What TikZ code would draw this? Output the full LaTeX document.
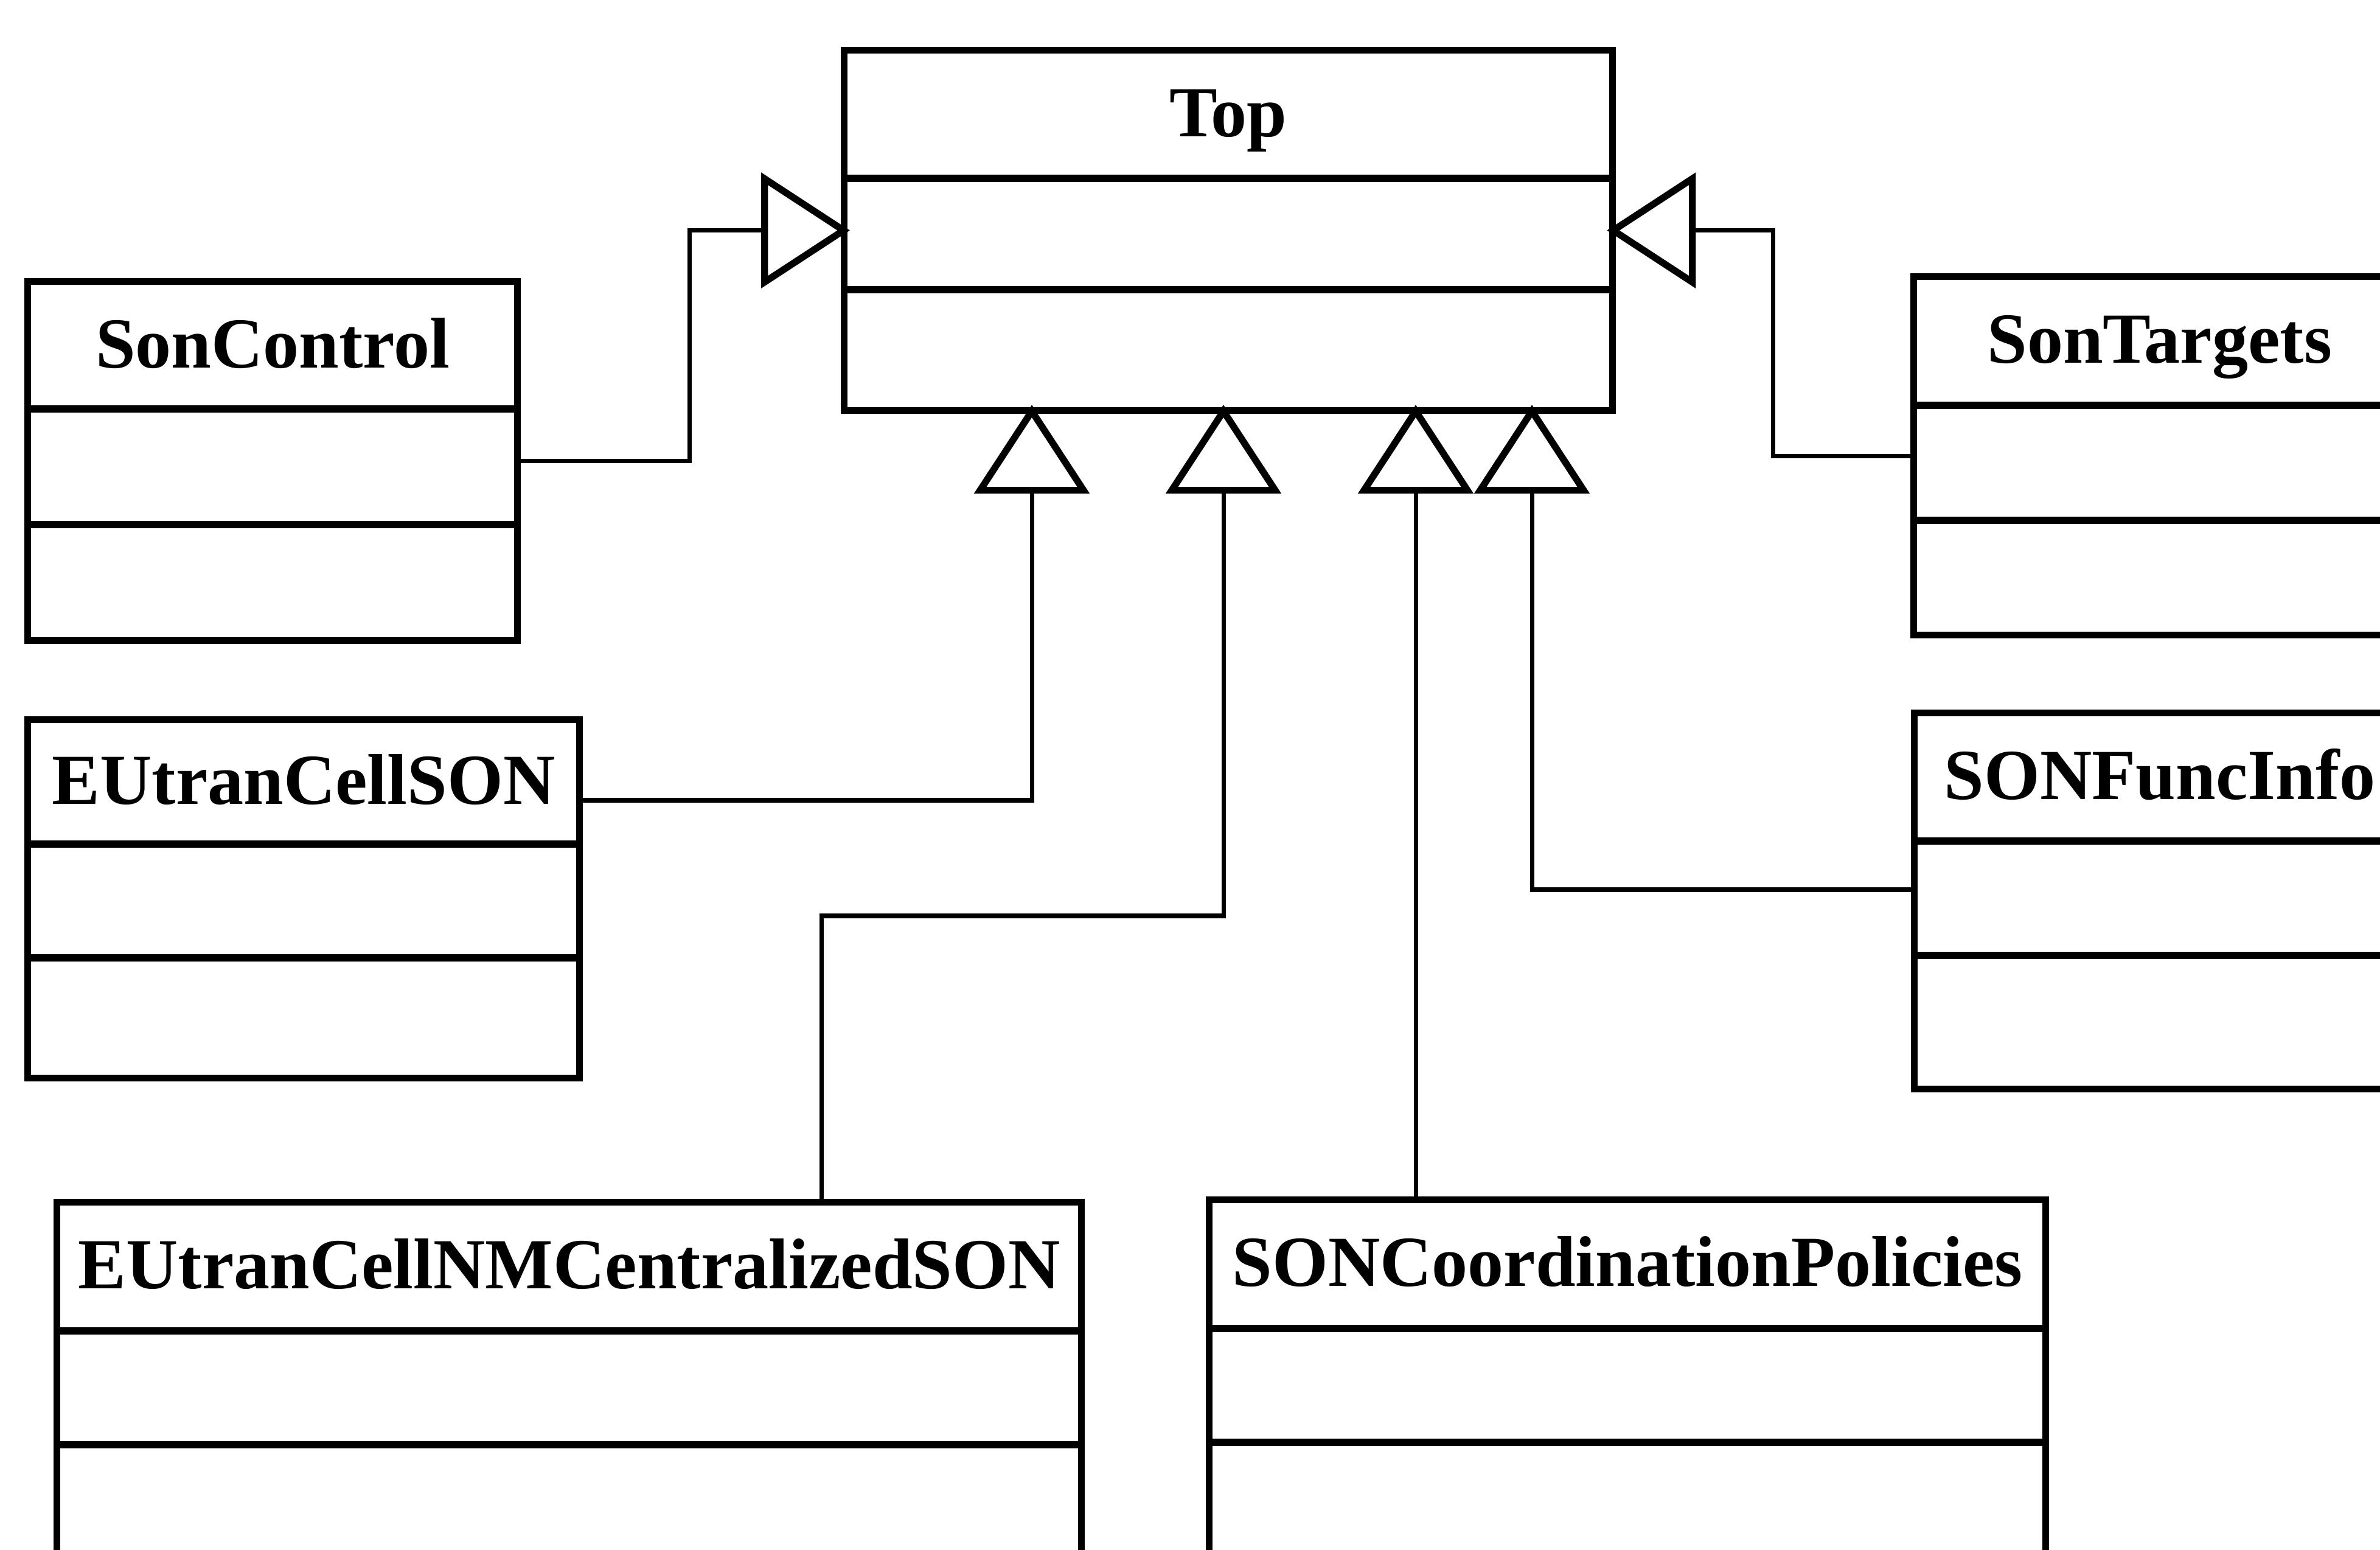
\documentclass[tikz,border=0pt]{standalone}
\usepackage{fontspec}
\setmainfont{Liberation Serif}
\usetikzlibrary{arrows.meta}

\begin{document}
\begin{tikzpicture}[classbox/.style={draw,line width=3.2pt,inner sep=0pt,anchor=north west},
        classline/.style={line width=3.2pt},
        title/.style={font=\bfseries\fontsize{33.6}{40}\selectfont,inner sep=0pt,
            text height=0.79cm,text depth=0pt},
        inherit/.style={line width=2pt,shorten >=-0.15cm,
            -{Triangle[open,length=1.46cm,width=1.88cm,line width=3.2pt]}}]

    \path[use as bounding box,fill=white] (0,0) rectangle (39.12,-25.47);
    \clip (0,0) rectangle (39.12,-25.47);

    % Top
    \node[classbox,minimum width=12.63cm,minimum height=5.92cm] (top) at (13.82,-0.77) {};
    \node[title] at ([yshift=-1.08cm]top.north) {Top};
    \draw[classline] ([yshift=-2.16cm]top.north west) -- ([yshift=-2.16cm]top.north east);
    \draw[classline] ([yshift=-3.99cm]top.north west) -- ([yshift=-3.99cm]top.north east);

    % SonControl
    \node[classbox,minimum width=8.05cm,minimum height=5.90cm] (ctl) at (0.40,-4.57) {};
    \node[title] at ([yshift=-1.08cm]ctl.north) {SonControl};
    \draw[classline] ([yshift=-2.15cm]ctl.north west) -- ([yshift=-2.15cm]ctl.north east);
    \draw[classline] ([yshift=-4.05cm]ctl.north west) -- ([yshift=-4.05cm]ctl.north east);

    % EUtranCellSON
    \node[classbox,minimum width=9.07cm,minimum height=5.89cm] (ecs) at (0.40,-11.77) {};
    \node[title] at ([yshift=-1.05cm]ecs.north) {EUtranCellSON};
    \draw[classline] ([yshift=-2.10cm]ecs.north west) -- ([yshift=-2.10cm]ecs.north east);
    \draw[classline] ([yshift=-3.97cm]ecs.north west) -- ([yshift=-3.97cm]ecs.north east);

    % SonTargets
    \node[classbox,minimum width=8.08cm,minimum height=5.89cm] (tgt) at (31.40,-4.49) {};
    \node[title] at ([yshift=-1.08cm]tgt.north) {SonTargets};
    \draw[classline] ([yshift=-2.17cm]tgt.north west) -- ([yshift=-2.17cm]tgt.north east);
    \draw[classline] ([yshift=-4.06cm]tgt.north west) -- ([yshift=-4.06cm]tgt.north east);

    % SONFuncInfo
    \node[classbox,minimum width=8.07cm,minimum height=6.18cm] (sfi) at (31.41,-11.66) {};
    \node[title] at ([yshift=-1.08cm]sfi.north) {SONFuncInfo};
    \draw[classline] ([yshift=-2.16cm]sfi.north west) -- ([yshift=-2.16cm]sfi.north east);
    \draw[classline] ([yshift=-4.04cm]sfi.north west) -- ([yshift=-4.04cm]sfi.north east);

    % EUtranCellNMCentralizedSON
    \node[classbox,minimum width=16.84cm,minimum height=7.00cm] (ncs) at (0.88,-19.70) {};
    \node[title] at ([yshift=-1.08cm]ncs.north) {EUtranCellNMCentralizedSON};
    \draw[classline] ([yshift=-2.17cm]ncs.north west) -- ([yshift=-2.17cm]ncs.north east);
    \draw[classline] ([yshift=-4.04cm]ncs.north west) -- ([yshift=-4.04cm]ncs.north east);

    % SONCoordinationPolicies
    \node[classbox,minimum width=13.75cm,minimum height=7.00cm] (scp) at (19.82,-19.66) {};
    \node[title] at ([yshift=-1.08cm]scp.north) {SONCoordinationPolicies};
    \draw[classline] ([yshift=-2.17cm]scp.north west) -- ([yshift=-2.17cm]scp.north east);
    \draw[classline] ([yshift=-4.04cm]scp.north west) -- ([yshift=-4.04cm]scp.north east);

    % inheritance
    \coordinate (t1) at ([xshift=3.14cm]top.south west);
    \coordinate (t2) at ([xshift=6.29cm]top.south west);
    \coordinate (t3) at ([xshift=9.45cm]top.south west);
    \coordinate (t4) at ([xshift=11.36cm]top.south west);

    \draw[inherit] (ctl.east) -- ++(2.77,0) |- (top.west);
    \draw[inherit] (tgt.west) -- ++(-2.26,0) |- (top.east);
    \draw[inherit] ([yshift=-1.38cm]ecs.north east) -| (t1);
    \draw[inherit] ([xshift=12.62cm]ncs.north west) -- ++(0,4.65) -| (t2);
    \draw[inherit] (scp.north -| t3) -- (t3);
    \draw[inherit] ([yshift=-2.96cm]sfi.north west) -| (t4);
\end{tikzpicture}
\end{document}
